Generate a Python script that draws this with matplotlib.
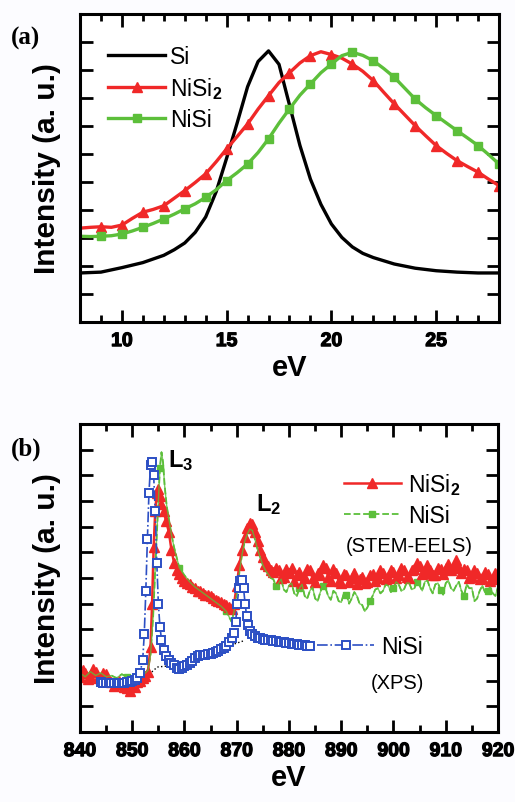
import matplotlib
matplotlib.use('Agg')
import matplotlib.pyplot as plt
import matplotlib.patheffects as pe
from matplotlib.ticker import MultipleLocator, NullFormatter

plt.rcParams['font.family'] = ['Liberation Sans', 'DejaVu Sans']
plt.rcParams['font.weight'] = 'bold'
plt.rcParams['mathtext.fontset'] = 'custom'
plt.rcParams['mathtext.rm'] = 'Liberation Sans'
plt.rcParams['mathtext.it'] = 'Liberation Sans:italic'
plt.rcParams['mathtext.bf'] = 'Liberation Sans:bold'

# ---- (a) low-loss spectra ----
si_ev = [8, 9, 10, 11, 12, 12.5, 13, 13.5, 14, 14.5, 15, 15.5, 16, 16.5, 17, 17.5,
         18, 18.5, 19, 19.5, 20, 20.5, 21, 21.5, 22, 23, 24, 25, 26, 27, 28]
si_int = [1.75, 1.78, 1.94, 2.12, 2.38, 2.58, 2.82, 3.2, 3.75, 4.65, 5.85, 7.1, 8.4, 9.3, 9.68, 9.2,
          7.75, 6.3, 5.1, 4.2, 3.5, 3.02, 2.68, 2.45, 2.3, 2.07, 1.92, 1.83, 1.78, 1.75, 1.75]

a_ev = [8, 8.5, 9, 9.5, 10, 10.5, 11, 11.5, 12, 12.5, 13, 13.5, 14, 14.5, 15, 15.5, 16, 16.5,
        17, 17.5, 18, 18.5, 19, 19.5, 20, 20.5, 21, 21.5, 22, 22.5, 23, 23.5, 24, 24.5, 25,
        25.5, 26, 26.5, 27, 27.5, 28]
nisi2_int = [3.35, 3.38, 3.40, 3.38, 3.46, 3.7, 3.92, 4.02, 4.15, 4.42, 4.69, 4.98, 5.29, 5.72,
             6.18, 6.62, 7.07, 7.6, 8.08, 8.55, 8.9, 9.25, 9.51, 9.65, 9.55, 9.42, 9.21, 8.95,
             8.62, 8.2, 7.79, 7.4, 7.01, 6.65, 6.30, 6.02, 5.76, 5.55, 5.35, 5.1, 4.87]
nisi_int = [3.06, 3.05, 3.06, 3.08, 3.14, 3.25, 3.38, 3.52, 3.68, 3.85, 4.04, 4.22, 4.45, 4.72,
            5.05, 5.33, 5.64, 6.05, 6.54, 7.1, 7.61, 8.1, 8.5, 8.9, 9.21, 9.51, 9.63, 9.52,
            9.33, 9.05, 8.74, 8.35, 7.96, 7.65, 7.37, 7.1, 6.83, 6.57, 6.30, 5.98, 5.64]

# ---- (b) Ni L-edge, STEM-EELS: (eV, intensity) ----
eels_nisi2 = [
    (840, 2.15), (840.5, 2.4), (841, 2.3), (841.5, 2.05), (842, 2.2), (842.5, 2.45), (843, 2.35),
    (843.5, 2.1), (844, 2.1), (844.5, 2.3), (845, 2.25), (845.5, 2.0), (846, 1.95), (846.5, 1.8),
    (847, 1.85), (847.5, 2.0), (848, 1.9), (848.5, 1.75), (849, 1.7), (849.5, 1.6), (850, 1.85),
    (850.5, 1.75), (851, 1.95), (851.5, 2.0), (852, 2.1), (852.5, 2.2), (853, 2.35), (853.5, 3.3),
    (853.8, 5.0), (854.1, 7.2), (854.4, 8.6), (854.7, 9.3), (855.0, 9.46), (855.3, 9.2),
    (855.6, 8.9), (856, 8.6), (856.5, 8.2), (857, 7.8), (857.5, 7.1), (858, 6.6), (858.5, 6.3),
    (859, 6.15), (859.5, 6.0), (860, 5.9), (860.5, 5.8), (861, 5.75), (861.5, 5.65), (862, 5.6),
    (862.5, 5.5), (863, 5.5), (863.5, 5.4), (864, 5.35), (864.5, 5.35), (865, 5.3), (865.5, 5.2),
    (866, 5.15), (866.5, 5.1), (867, 5.05), (867.5, 5.0), (868, 4.95), (868.5, 4.85), (869, 4.8),
    (869.5, 5.0), (870, 5.7), (870.5, 6.5), (871, 7.1), (871.5, 7.6), (872, 7.95), (872.5, 8.15),
    (873, 8.1), (873.5, 7.8), (874, 7.45), (874.5, 7.1), (875, 6.8), (875.5, 6.55),
    (876, 6.45), (876.5, 6.3), (877, 6.25), (877.5, 6.4), (878, 6.3), (878.5, 6.0), (879, 6.05),
    (879.5, 6.35), (880, 6.2), (880.5, 6.4), (881, 5.9), (881.5, 6.1), (882, 6.25), (882.5, 5.8),
    (883, 6.0), (883.5, 6.35), (884, 6.3), (884.5, 6.0), (885, 5.85), (885.5, 6.2), (886, 6.1),
    (886.5, 6.5), (887, 6.4), (887.5, 6.05), (888, 5.9), (888.5, 6.35), (889, 6.2), (889.5, 5.9),
    (890, 5.8), (890.5, 6.15), (891, 6.1), (891.5, 5.85), (892, 6.0), (892.5, 6.2), (893, 5.75),
    (893.5, 5.95), (894, 6.05), (894.5, 5.8), (895, 5.85), (895.5, 6.1), (896, 6.15), (896.5, 5.9),
    (897, 6.0), (897.5, 6.3), (898, 6.2), (898.5, 5.95), (899, 6.05), (899.5, 6.3), (900, 6.25),
    (900.5, 6.0), (901, 6.1), (901.5, 6.4), (902, 6.3), (902.5, 6.05), (903, 6.0), (903.5, 6.3),
    (904, 6.35), (904.5, 6.6), (905, 6.45), (905.5, 6.15), (906, 6.2), (906.5, 6.5), (907, 6.3),
    (907.5, 6.1), (908, 6.1), (908.5, 6.4), (909, 6.35), (909.5, 6.15), (910, 6.4), (910.5, 6.55),
    (911, 6.3), (911.5, 6.45), (912, 6.7), (912.5, 6.4), (913, 6.2), (913.5, 6.35), (914, 6.3),
    (914.5, 6.0), (915, 6.05), (915.5, 6.3), (916, 6.2), (916.5, 5.95), (917, 6.0), (917.5, 6.25),
    (918, 6.15), (918.5, 5.9), (919, 5.95), (919.5, 6.2), (920, 6.0),
]
eels_nisi = [
    (840, 2.3), (841, 2.15), (842, 2.35), (843, 2.2), (844, 2.3), (845, 2.15), (846, 2.2),
    (847, 2.1), (848, 2.25), (849, 2.15), (850, 2.05), (851, 2.1), (852, 2.2), (853, 2.4),
    (853.5, 3.0), (854, 4.5), (854.5, 6.8), (855, 9.0), (855.3, 10.3), (855.6, 10.9),
    (855.9, 10.5), (856.2, 9.6), (856.6, 8.8), (857, 8.3), (857.5, 7.7), (858, 7.2), (858.5, 6.8),
    (859, 6.4), (860, 6.1), (861, 5.85), (862, 5.65), (863, 5.5), (864, 5.35), (865, 5.2),
    (866, 5.05), (867, 4.9), (868, 4.7), (869, 4.3), (869.5, 4.7), (870, 5.4), (870.5, 6.2),
    (871, 6.9), (871.5, 7.4), (872, 7.7), (872.5, 7.9), (873, 7.85), (873.5, 7.5), (874, 7.1),
    (874.5, 6.8), (875, 6.5), (875.5, 6.3),
    (876, 6.15), (876.5, 6.0), (877, 5.95), (877.5, 5.7), (878, 5.8), (878.5, 5.95), (879, 5.55),
    (879.5, 5.45), (880, 5.7), (880.5, 5.8), (881, 5.4), (881.5, 5.3), (882, 5.6), (882.5, 5.75),
    (883, 5.3), (883.5, 5.2), (884, 5.5), (884.5, 5.65), (885, 5.2), (885.5, 5.1), (886, 5.45),
    (886.5, 5.7), (887, 5.6), (887.5, 5.3), (888, 5.15), (888.5, 5.5), (889, 5.4), (889.5, 5.1),
    (890, 5.05), (890.5, 5.4), (891, 5.35), (891.5, 5.0), (892, 5.2), (892.5, 5.45), (893, 5.3),
    (893.5, 5.0), (894, 4.95), (894.5, 4.7), (895, 4.85), (895.5, 5.1), (896, 5.3), (896.5, 5.55),
    (897, 5.6), (897.5, 5.4), (898, 5.5), (898.5, 5.75), (899, 5.7), (899.5, 5.45), (900, 5.6),
    (900.5, 5.85), (901, 5.75), (901.5, 5.5), (902, 5.55), (902.5, 5.8), (903, 5.8), (903.5, 5.55),
    (904, 5.6), (904.5, 5.85), (905, 5.7), (905.5, 5.5), (906, 5.85), (906.5, 5.9), (907, 5.6),
    (907.5, 5.4), (908, 5.75), (908.5, 5.8), (909, 5.55), (909.5, 5.35), (910, 5.8), (910.5, 5.9),
    (911, 5.6), (911.5, 5.5), (912, 5.7), (912.5, 5.85), (913, 5.5), (913.5, 5.3), (914, 5.75),
    (914.5, 5.6), (915, 5.6), (915.5, 5.1), (916, 5.2), (916.5, 5.5), (917, 5.7), (917.5, 5.45),
    (918, 5.5), (918.5, 5.65), (919, 5.4), (919.5, 5.3), (920, 5.65),
]

# ---- (b) Ni 2p, XPS: (eV, intensity) ----
xps_nisi = [
    (844, 1.93), (844.5, 1.92), (845, 1.92), (845.5, 1.91), (846, 1.91), (846.5, 1.9), (847, 1.90),
    (847.5, 1.9), (848, 1.91), (848.5, 1.92), (849, 1.93), (849.5, 1.95), (850, 1.98),
    (850.5, 2.03), (851, 2.12), (851.5, 2.3), (852, 2.8), (852.3, 3.8), (852.6, 5.5), (852.9, 7.5),
    (853.2, 9.3), (853.5, 10.4), (853.8, 10.5), (854.1, 10.0), (854.4, 8.6), (854.7, 6.6),
    (855.0, 5.0), (855.3, 4.1), (855.6, 3.6), (856, 3.2), (856.5, 2.95), (857, 2.8), (857.5, 2.7),
    (858, 2.6), (858.5, 2.5), (859, 2.47), (859.5, 2.5), (860, 2.56), (860.5, 2.62), (861, 2.7),
    (861.5, 2.78), (862, 2.88), (862.5, 2.95), (863, 3.0), (863.5, 2.98), (864, 3.0),
    (864.5, 3.02), (865, 3.04), (865.5, 3.06), (866, 3.1), (866.5, 3.15), (867, 3.22),
    (867.5, 3.28), (868, 3.36), (868.5, 3.5), (869, 3.65), (869.5, 3.85), (869.8, 4.3),
    (870.1, 5.0), (870.4, 5.6), (870.7, 5.9), (871.0, 5.92), (871.3, 5.6), (871.6, 5.0),
    (871.9, 4.5), (872.2, 4.15), (872.6, 3.95), (873, 3.82), (873.5, 3.72), (874, 3.67),
    (874.5, 3.65), (875, 3.62), (875.5, 3.6), (876, 3.59), (876.5, 3.57), (877, 3.55),
    (877.5, 3.54), (878, 3.52), (878.5, 3.5), (879, 3.49), (879.5, 3.47), (880, 3.45),
    (880.5, 3.44), (881, 3.43), (881.5, 3.41), (882, 3.40), (882.5, 3.38), (883, 3.37),
    (883.5, 3.35), (884, 3.34),
]

# XPS background (dotted)
bg_ev = [852, 853.7, 854.8, 857.2, 871.3]
bg_int = [2.1, 2.33, 2.53, 2.58, 3.55]

RED = '#f02828'
GREEN = '#5cbf3a'
BLUE = '#2c4fc4'
LEG_FONT = {'weight': 'normal', 'size': 16.5}
HEAVY = [pe.withStroke(linewidth=0.9, foreground='black')]

fig = plt.figure(figsize=(5.15, 8.03), dpi=100, facecolor='#fcfcff')
ax1 = fig.add_axes([0.1553, 0.5978, 0.8136, 0.3836])
ax2 = fig.add_axes([0.1553, 0.0872, 0.8117, 0.3836])


def style_axes(ax, major, minor):
    for s in ax.spines.values():
        s.set_linewidth(2.2)
    ax.xaxis.set_major_locator(MultipleLocator(major))
    ax.xaxis.set_minor_locator(MultipleLocator(minor))
    ax.yaxis.set_major_locator(MultipleLocator(1))
    ax.yaxis.set_major_formatter(NullFormatter())
    ax.tick_params(which='both', direction='in', top=True, right=True, width=2)
    ax.tick_params(which='major', length=9, labelsize=14, pad=8)
    ax.tick_params(which='minor', length=5)
    ax.set_ylabel('Intensity (a. u.)', fontsize=21.5, fontweight='bold', labelpad=6)
    ax.set_xlabel('eV', fontsize=21, fontweight='bold', labelpad=2)


# panel (a)
ax1.plot(si_ev, si_int, color='black', lw=2.4, label='Si')
ax1.plot(a_ev, nisi2_int, color=RED, lw=2.4, marker='^', ms=7.5,
         markevery=slice(2, None, 2), label='NiSi$_2$')
ax1.plot(a_ev, nisi_int, color=GREEN, lw=2.4, marker='s', ms=6,
         markevery=slice(2, None, 2), label='NiSi')
ax1.set_xlim(8, 28)
ax1.set_ylim(0, 11)
style_axes(ax1, 5, 1)
ax1.legend(loc='upper left', bbox_to_anchor=(0.04, 0.935), frameon=False, prop=LEG_FONT,
           handlelength=2.5, handletextpad=0.2, borderpad=0, labelspacing=0.3)

# panel (b)
r_ev = [p[0] for p in eels_nisi2]
r_int = [p[1] for p in eels_nisi2]
g_ev = [p[0] for p in eels_nisi]
g_int = [p[1] for p in eels_nisi]
b_ev = [p[0] for p in xps_nisi]
b_int = [p[1] for p in xps_nisi]

ax2.plot(bg_ev, bg_int, color='black', lw=1, ls=':')
ax2.plot(g_ev, g_int, color=GREEN, lw=1.3, ls='--', marker='s', ms=5,
         markevery=9, label='NiSi')
ax2.plot(r_ev, r_int, color=RED, lw=1.8, marker='^', ms=6.5, mec=RED,
         label='NiSi$_2$')
ax2.plot(g_ev, g_int, color=GREEN, lw=1.0, alpha=0.8)
xps_line, = ax2.plot(b_ev, b_int, color=BLUE, lw=1.2, ls='-.', marker='s', ms=5.5,
                     mfc='white', mec=BLUE, mew=1.4, label='NiSi')
ax2.set_xlim(840, 920)
ax2.set_ylim(0, 12)
style_axes(ax2, 10, 5)

h, l = ax2.get_legend_handles_labels()
leg1 = ax2.legend([h[1], h[0]], [l[1], l[0]], loc='upper left', bbox_to_anchor=(0.603, 0.885),
                  frameon=False, prop=LEG_FONT, handlelength=2.5, handletextpad=0.3,
                  borderpad=0, labelspacing=0.3)
ax2.add_artist(leg1)
ax2.text(0.787, 0.604, '(STEM-EELS)', transform=ax2.transAxes, ha='center', va='center',
         fontsize=14.5, fontweight='normal')
ax2.legend([xps_line], ['NiSi'], loc='center left', bbox_to_anchor=(0.54, 0.276),
           frameon=False, prop=LEG_FONT, handlelength=2.5, handletextpad=0.3, borderpad=0)
ax2.text(0.76, 0.162, '(XPS)', transform=ax2.transAxes, ha='center', va='center',
         fontsize=14.5, fontweight='normal')

ax2.text(856.8, 10.6, r'$\mathbf{L_3}$', fontsize=17, ha='left', va='center')
ax2.text(873.6, 8.9, r'$\mathbf{L_2}$', fontsize=17, ha='left', va='center')

fig.text(0.022, 0.952, '(a)', fontsize=18, fontweight='bold', family='Liberation Serif',
         va='center')
fig.text(0.022, 0.440, '(b)', fontsize=18, fontweight='bold', family='Liberation Serif',
         va='center')

# heavier tick numbers
fig.canvas.draw()
for ax in (ax1, ax2):
    for lab in ax.get_xticklabels():
        lab.set_fontweight('bold')
        lab.set_path_effects(HEAVY)

fig.savefig('out.png', dpi=100, facecolor=fig.get_facecolor())
